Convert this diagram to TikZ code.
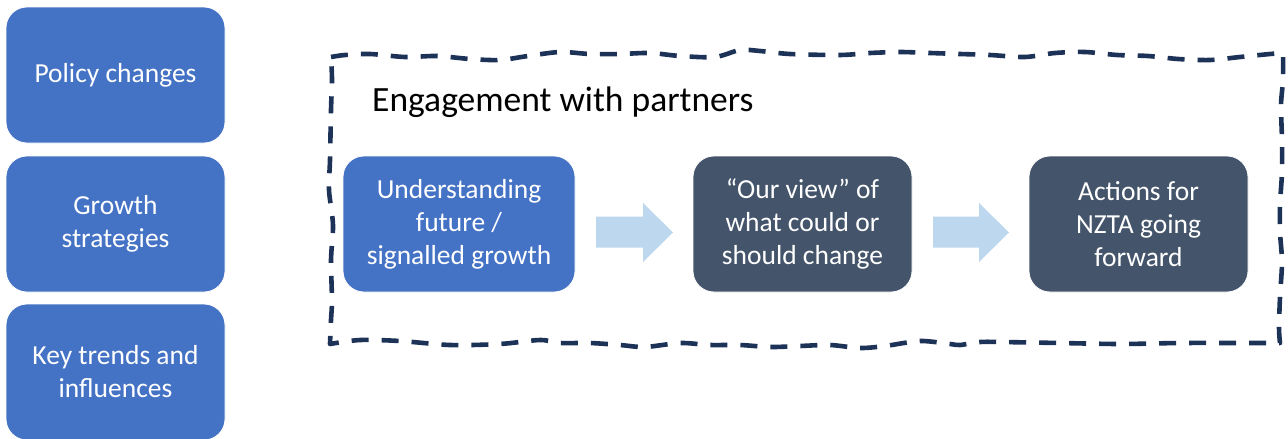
\documentclass[tikz,border=0pt]{standalone}
\usepackage{fontspec}
\setmainfont{Carlito}
\definecolor{boxblue}{HTML}{4472C4}
\definecolor{boxslate}{HTML}{44546A}
\definecolor{arrowblue}{HTML}{BDD7EE}
\definecolor{navy}{HTML}{1C3257}
\tikzset{
  card/.style={rounded corners=21pt, draw=white, line width=0.8pt,
    text=white, align=center, inner sep=0pt,
    font=\fontsize{27.5}{33}\selectfont},
  sidecard/.style={card, fill=boxblue, minimum width=219pt, minimum height=136pt},
  flowblue/.style={card, fill=boxblue, minimum width=232pt, minimum height=136pt},
  flowdark/.style={card, fill=boxslate, minimum width=219pt, minimum height=136pt},
  blockarrow/.style={fill=arrowblue, draw=none},
  frame/.style={draw=navy, line width=4.6pt, dash pattern=on 17pt off 13pt, line join=round}
}
\begin{document}
\begin{tikzpicture}[x=1pt, y=-1pt]
\useasboundingbox (0,0) rectangle (1288,439);

% inputs on the left
\node[sidecard] (policy) at (115.5,75) {Policy changes};
\node[sidecard] (growth) at (115.5,224) {Growth\\strategies};
\node[sidecard] (trends) at (115.5,372) {Key trends and\\influences};

% engagement frame, drawn freehand
\draw[frame]
  plot[smooth] coordinates {(331,57) (345,55) (370,54) (405,57) (437,56) (470,59) (500,60) (528,56) (560,52) (590,54) (620,54) (650,53) (680,56) (715,57) (740,50) (760,51) (790,54) (840,55) (870,53) (900,52) (930,53) (960,54) (990,55) (1025,57) (1055,53) (1085,52) (1117,55) (1148,56) (1178,59) (1210,60) (1240,57) (1270,54) (1283,53)}
  -- plot[smooth] coordinates {(1283,53) (1283,80) (1281,105) (1282,140) (1282,172) (1280,205) (1280,232) (1282,262) (1280,297) (1279,328) (1280,343)}
  -- plot[smooth] coordinates {(1280,343) (1240,343) (1180,343) (1120,344) (1060,343) (1000,342) (980,342) (960,345) (950,344) (920,341) (885,346) (860,348) (830,345) (800,346) (770,347) (740,345) (710,345) (680,343) (645,347) (620,345) (590,343) (560,343) (540,340) (500,344) (450,345) (400,341) (360,340) (330,344)}
  -- plot[smooth] coordinates {(330,344) (331,320) (332,300) (331,260) (333,225) (329,190) (330,160) (331,110) (332,80) (331,57)};

\node[anchor=base west, inner sep=0pt, font=\fontsize{35.5}{42}\selectfont] (title) at (372,111) {Engagement with partners};

% process steps
\node[flowblue] (understand) at (459,224) {Understanding\\future /\\signalled growth};
\node[flowdark] (view) at (802.5,224) {“Our view” of\\what could or\\should change};
\node[flowdark] (actions) at (1138.5,224) {Actions for\\NZTA going\\forward};

% block arrows between steps
\fill[blockarrow] (596,216.5) -- (643,216.5) -- (643,203) -- (673,232.5) -- (643,262) -- (643,247.5) -- (596,247.5) -- cycle;
\fill[blockarrow] (933,216.5) -- (979,216.5) -- (979,203) -- (1009,232.5) -- (979,262) -- (979,247.5) -- (933,247.5) -- cycle;
\end{tikzpicture}
\end{document}
